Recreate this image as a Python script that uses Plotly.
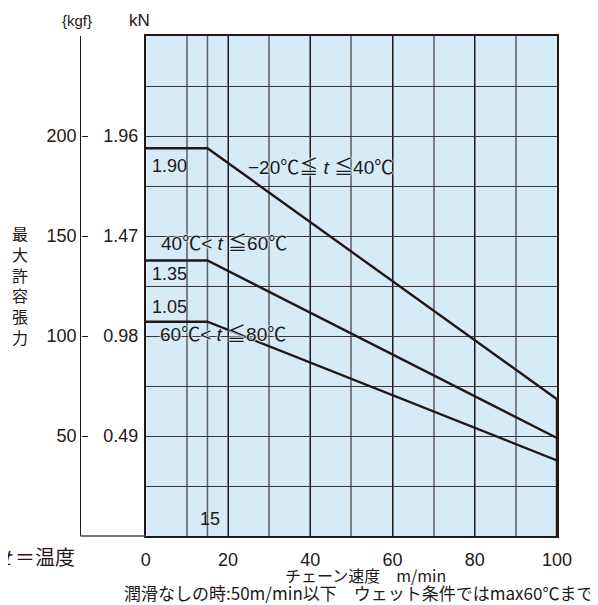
import plotly.graph_objects as go

# ---- data ----
speed_ticks = [0, 20, 40, 60, 80, 100]
speed_break = [15]
kn_ticks = [0.49, 0.98, 1.47, 1.96]
kn_labels = ["0.49", "0.98", "1.47", "1.96"]
kgf_ticks = [50, 100, 150, 200, 250]
kgf_labels = ["50", "100", "150", "200", ""]

s1_x = [0, 15, 100, 100]
s1_y = [1.90, 1.90, 0.67, 0.0]
s2_x = [0, 15, 100]
s2_y = [1.35, 1.35, 0.48]
s3_x = [0, 15, 100]
s3_y = [1.05, 1.05, 0.37]

series_names = ["−20℃≦ <i>t</i> ≦40℃", "40℃< <i>t</i> ≦60℃", "60℃< <i>t</i> ≦80℃"]

INK = "#231815"
GRAY = "#7c8185"
BG = "#d5ebf8"
FONT = "Liberation Sans, Noto Sans CJK JP, sans-serif"
JFONT = "Noto Sans CJK JP, Liberation Sans, sans-serif"

OFF = 8  # page body margin
W, H = 598 - OFF, 605 - OFF
PL, PR, PT, PB = 142, 557, 36, 536  # plot box in page pixels
ML, MR, MT, MB = 0, W - (PR - OFF), PT - OFF, H - (PB - OFF)
PW = W - ML - MR
PH = H - MT - MB
kgf_px = 76


def px(p):
    return (p - OFF) / PW


def py(p):
    return (PB - p) / PH


fig = go.Figure()
for xs, ys in [(s1_x, s1_y), (s2_x, s2_y), (s3_x, s3_y)]:
    fig.add_trace(go.Scatter(x=xs, y=ys, mode="lines",
                             line=dict(color=INK, width=2.4),
                             showlegend=False, hoverinfo="skip", cliponaxis=False))

# dummy trace for kgf axis
fig.add_trace(go.Scatter(x=[None], y=[None], yaxis="y2", showlegend=False, hoverinfo="skip"))

# 15 m/min line
for b in speed_break:
    fig.add_shape(type="line", x0=b, x1=b, y0=0, y1=1, xref="x", yref="paper",
                  line=dict(color="#5d6164", width=1.5), layer="below")

# bottom axis line extending to the kgf axis
fig.add_shape(type="line", x0=px(kgf_px), x1=px(PL), y0=0, y1=0,
              xref="paper", yref="paper", line=dict(color="#4a4442", width=1.3))

halo = ", ".join(["0 0 2px " + BG] * 4)

ann = []


def A(text, x, y, xanchor="center", size=18, xref="x", yref="y", font=FONT, shadow=None):
    f = dict(family=font, size=size, color=INK)
    if shadow:
        f["shadow"] = shadow
    ann.append(dict(text=text, x=x, y=y, xref=xref, yref=yref, xanchor=xanchor,
                    yanchor="middle", showarrow=False, font=f))


A("1.90", 1.1, 1.813, xanchor="left")
A("1.35", 1.1, 1.284, xanchor="left")
A("1.05", 1.1, 1.122, xanchor="left")
A(series_names[0], 42.6, 1.808, size=19, shadow=halo)
A(series_names[1], 19.0, 1.431, size=19, shadow=halo)
A(series_names[2], 18.9, 0.985, size=19, shadow=halo)
A("15", 15.6, 0.083, size=18)
A("0.67", 101.4, 0.622, xanchor="left")
A("0.48", 101.4, 0.431, xanchor="left")
A("0.37", 101.4, 0.338, xanchor="left")

A("{kgf}", px(73), py(21), xref="paper", yref="paper", size=15)
A("kN", px(136), py(21), xref="paper", yref="paper", size=17)
A("最<br>大<br>許<br>容<br>張<br>力", px(15), py(285), xref="paper", yref="paper",
  size=16, font=JFONT)
A("<i>t</i> ＝温度", px(73), py(556), xanchor="right", xref="paper", yref="paper",
  size=20, font=JFONT)
A("チェーン速度　m/min", px(364), py(575), xref="paper", yref="paper",
  size=16, font=JFONT)
A("潤滑なしの時:50m/min以下　ウェット条件ではmax60℃まで", px(357), py(592.5),
  xref="paper", yref="paper", size=17, font=JFONT)

fig.update_layout(
    width=W, height=H,
    margin=dict(l=ML, r=MR, t=MT, b=MB, pad=0),
    paper_bgcolor="white",
    plot_bgcolor=BG,
    annotations=ann,
    xaxis=dict(domain=[px(PL), 1], range=[0, 100], tickvals=speed_ticks,
               ticktext=[str(v) for v in speed_ticks],
               tickfont=dict(family=FONT, size=18, color=INK),
               ticks="outside", ticklen=7, tickcolor="rgba(0,0,0,0)",
               showgrid=True, gridcolor=INK, gridwidth=1.3,
               minor=dict(dtick=10, tick0=0, showgrid=True, gridcolor=GRAY, gridwidth=1.7),
               showline=True, linecolor=INK, linewidth=1.6, mirror=True,
               zeroline=False, fixedrange=True),
    yaxis=dict(range=[0, 2.45], tickvals=kn_ticks, ticktext=kn_labels,
               tickfont=dict(family=FONT, size=18, color=INK),
               ticks="outside", ticklen=2, tickcolor="rgba(0,0,0,0)",
               showgrid=True, gridcolor="#3b3533", gridwidth=1.3,
               minor=dict(dtick=0.245, tick0=0, showgrid=True, gridcolor="#3b3533", gridwidth=1.3),
               showline=True, linecolor=INK, linewidth=1.6, mirror=True,
               zeroline=False, fixedrange=True),
    yaxis2=dict(overlaying="y", anchor="free", position=px(kgf_px), side="left",
                range=[0, 250], tickvals=kgf_ticks, ticktext=kgf_labels,
                tickfont=dict(family=FONT, size=18, color=INK),
                ticks="inside", ticklen=6, tickwidth=1.2, tickcolor=INK,
                showgrid=False, zeroline=False,
                showline=True, linecolor=INK, linewidth=1.4, fixedrange=True),
)

fig.write_html("out.html")
